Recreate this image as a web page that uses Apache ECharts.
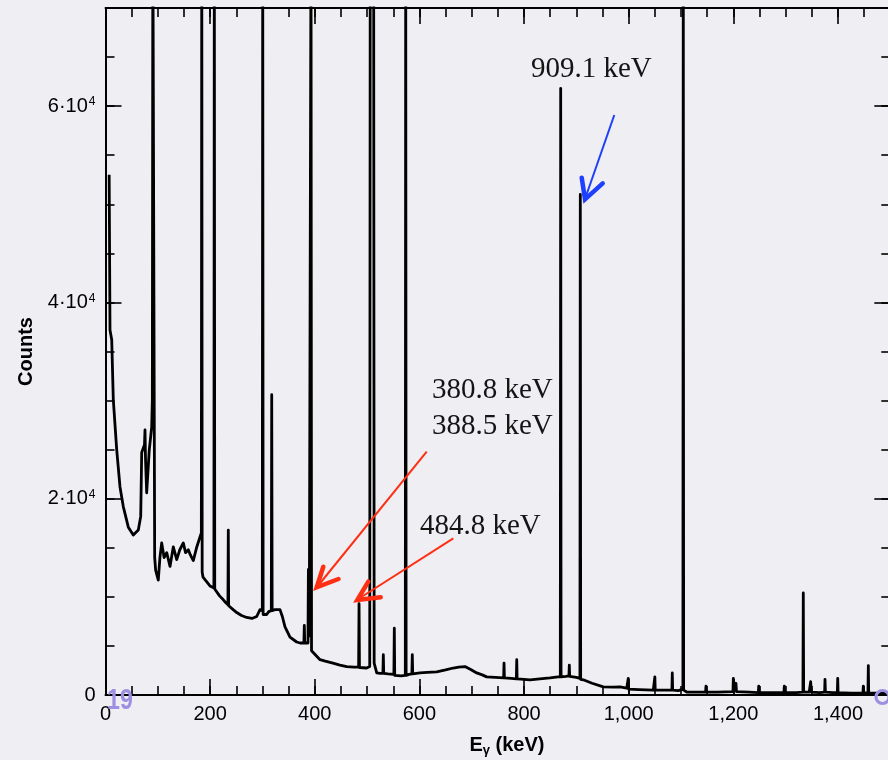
<!DOCTYPE html>
<html><head><meta charset="utf-8">
<script src="https://cdn.jsdelivr.net/npm/echarts@6/dist/echarts.min.js"></script>
<style>html,body{margin:0;padding:0;background:#eeeef3;}#c{width:888px;height:760px;}</style>
</head><body><div id="c"></div>
<script>
// Spectrum: [energy keV, counts]
const lowRegion = [
  [7,53000],[8.6,37200],[11.9,36200],[14.9,30100],[21.4,25000],[27.7,21200],[34,19200],[43.6,17100],
  [53.1,16300],[62.7,16800],[67.3,18200],[69.2,24700],[74.5,25500],[75.5,27000],[76.5,24000],[78.7,20600],
  [83.7,25000],[88.3,27300],[89.5,30000],[90.5,78000],[92.5,78000],[94,14000],[95.9,12700],[100.9,11700],
  [104,14000],[107.4,15500],[112,14000],[117,14500],[123.3,13100],[129.6,15100],[136.1,13800],[142,14800],
  [148.7,15500],[153,14500],[158.3,14800],[162,14300],[167.8,13700],[174,15000],[180.6,16100],[183.2,16500],
  [184,78000],[184.8,12500],[186.4,12000],[194,11500],[200,11100],[207.2,10900],[208,78000],[208.8,10800],
  [212.5,10700],[218,10100],[225.2,9700],[230,9400],[234,9200],[234.7,16800],[235.4,9100],[238,9000],
  [244,8700],[250.8,8400],[260,8100],[269.9,7900],[280,7800],[289,8000],[295.3,8700],[299.7,8600],
  [300.5,78000],[301.3,8200],[308.1,8200],[312,8500],[316.9,8600],[317.7,30600],[318.5,8600],[324,8700],
  [333.5,8700],[338,8000],[343.1,6950],[352.6,5900],[365.4,5400],[372,5300],[379.2,5300],[380,7100],
  [380.8,5300],[387,5300],[387.8,12800],[389.5,6000],[392,6000],[392.8,78000],[393.8,4500],[397.2,4300]
];
const midRegion = [
  [410,3600],[420,3450],[434.8,3250],[448,3050],[461,2900],[475,2850],[483.8,2850],[484.6,9300],
  [485.4,2800],[499.2,2750],[505,2900],[506,78000],[512.5,78000],[513.5,3250],[518.4,2250],[525,2200],
  [530.2,2200],[531,4100],[531.8,2200],[540,2150],[551.2,2100],[552,6800],[552.8,2000],[556.6,1850],
  [565,1950],[573,2000],[573.8,78000],[574.6,2000],[580,2100],[585.6,2150],[586.4,4100],[587.2,2150],
  [601.1,2250],[615,2300],[633,2350],[650,2550],[664.8,2750],[675,2850],[687.1,2900],[698,2600],
  [709.5,2250],[720,2050],[728.6,1850],[745,1800],[761,1750],[761.7,3250],[762.4,1750],[775,1700],
  [785.3,1650],[786,3600],[786.7,1650],[800,1600],[811.4,1550],[830,1650],[849.6,1750],[865,1850],
  [869.3,1850],[870,61800],[870.7,1850],[880,1900],[885.8,1950],[886.5,3050],[887.2,1900],[900,1800],
  [906.8,1700],[907.5,51000],[908.2,1600],[913.2,1550],[930,1200],[951.5,820],[970,800],[983.4,820],
  [996.2,700]
];
const highRegion = [
  [998.5,650],[999.2,1700],[999.9,600],[1020,550],[1047,500],[1049.3,500],[1050,1850],[1050.7,500],
  [1070,500],[1082.6,500],[1083.3,2250],[1084,500],[1095,450],[1103.6,600],[1104.3,78000],[1105,500],
  [1110.9,300],[1130,300],[1147,300],[1147.7,900],[1148.4,300],[1170,300],[1199.3,350],[1200,1700],
  [1201,600],[1203,400],[1205,1200],[1206,350],[1230,300],[1247.8,250],[1248.5,900],[1249.2,250],
  [1275,250],[1296.7,250],[1297.4,900],[1298.1,250],[1320,250],[1333,300],[1333.7,10400],[1334.4,300],
  [1345,300],[1347.8,1350],[1349,300],[1365,250],[1374.5,300],[1375.2,1600],[1376,300],[1390,250],
  [1398.8,250],[1399.5,1700],[1400.2,250],[1425,200],[1447.7,200],[1448.4,900],[1449.1,200],[1457.3,250],
  [1458,3000],[1458.7,200],[1480,200],[1500,200]
];
const xTickLabels = ['0','200','400','600','800','1,000','1,200','1,400'];
const yTickMantissa = ['0','2','4','6'];

const FONT = 'Liberation Sans';
const BLACK = '#000';

function xAx(pos, interval, len, labeled, line) {
  const a = {
    type:'value', position:pos, min:0, max:1500, interval:interval,
    axisLine:{show:line, onZero:false, lineStyle:{color:BLACK, width:2}},
    axisTick:{show:true, inside:true, length:len, lineStyle:{color:BLACK, width:1.6}},
    axisLabel:{show:labeled}, splitLine:{show:false}
  };
  if (labeled) {
    a.axisLabel = {show:true, margin:9, color:BLACK, fontSize:20, fontFamily:FONT,
      formatter: v => { const i = v/200; return Number.isInteger(i) && xTickLabels[i] !== undefined ? xTickLabels[i] : ''; }};
    a.name = '{e|E}{g|γ}{e| (keV)}';
    a.nameLocation = 'middle';
    a.nameGap = 38;
    a.nameTextStyle = {padding:[0,0,0,18], rich:{
      e:{fontSize:20, fontWeight:'bold', fontFamily:FONT, color:BLACK, lineHeight:24},
      g:{fontSize:13, fontWeight:'bold', fontFamily:FONT, color:BLACK, lineHeight:14, verticalAlign:'bottom', padding:[8,0,0,0]}
    }};
  }
  return a;
}
function yAx(pos, interval, len, labeled, line) {
  const a = {
    type:'value', position:pos, min:0, max:70000, interval:interval,
    axisLine:{show:line, onZero:false, lineStyle:{color:BLACK, width:2}},
    axisTick:{show:true, inside:true, length:len, lineStyle:{color:BLACK, width:1.6}},
    axisLabel:{show:labeled}, splitLine:{show:false}
  };
  if (labeled) {
    a.axisLabel = {show:true, margin:10, color:BLACK, fontSize:20, fontFamily:FONT,
      formatter: v => {
        const i = v/20000;
        if (!Number.isInteger(i) || yTickMantissa[i] === undefined) return '';
        if (i === 0) return '{b|0}';
        return '{b|' + yTickMantissa[i] + '·10}{s|4}';
      },
      rich:{
        b:{fontSize:20, fontFamily:FONT, color:BLACK, lineHeight:22},
        s:{fontSize:12, fontFamily:FONT, color:BLACK, lineHeight:12, verticalAlign:'top', padding:[1,0,0,1]}
      }};
    a.name = 'Counts';
    a.nameLocation = 'middle';
    a.nameRotate = 90;
    a.nameGap = 66;
    a.nameTextStyle = {fontSize:20, fontWeight:'bold', fontFamily:FONT, color:BLACK};
  }
  return a;
}

const chart = echarts.init(document.getElementById('c'), null, {renderer:'canvas'});
const serif = '29px "Liberation Serif"';
function label(text, x, y) {
  return {type:'text', z:100, x:x, y:y, style:{text:text, font:serif, fill:'#141414',
    align:'left', verticalAlign:'middle', textAlign:'left', textVerticalAlign:'middle'}};
}
function arrow(color, shaft, head) {
  return [
    {type:'polyline', z:100, shape:{points:shaft}, style:{stroke:color, lineWidth:2, fill:null}},
    {type:'polyline', z:100, shape:{points:head}, style:{stroke:color, lineWidth:4.5, fill:null, lineCap:'round', lineJoin:'miter'}}
  ];
}
const BLUE = '#1e3ffc', RED = '#ff2f14', PURPLE = '#9d90e2';

chart.setOption({
  backgroundColor:'#eeeef3',
  animation:false,
  grid:{left:105.5, top:8, width:784.8, height:687, containLabel:false, outerBoundsMode:'none'},
  xAxis:[ xAx('bottom',200,16,true,true), xAx('bottom',50,9,false,false),
          xAx('top',200,16,false,true), xAx('top',50,9,false,false) ],
  yAxis:[ yAx('left',20000,16,true,true), yAx('left',5000,9,false,false),
          yAx('right',20000,16,false,true), yAx('right',5000,9,false,false) ],
  series:[{
    type:'line', xAxisIndex:0, yAxisIndex:0,
    data: lowRegion.concat(midRegion, highRegion),
    showSymbol:false, symbol:'none', clip:true, silent:true,
    lineStyle:{color:BLACK, width:2.8, join:'round'}
  }],
  graphic:[
    label('909.1 keV', 531, 69),
    label('380.8 keV', 432, 390),
    label('388.5 keV', 432, 426),
    label('484.8 keV', 420, 526),
    ...arrow(BLUE, [[614.3,115],[585,199]], [[581.7,177.7],[585,199.3],[602.7,183.3]]),
    ...arrow(RED, [[426.7,451.7],[317,587]], [[323.3,566.7],[316.7,587.3],[338.5,579]]),
    ...arrow(RED, [[453.3,538.3],[357.5,599.5]], [[368.3,581.7],[357.3,600],[380.7,597.3]]),
    {type:'text', z:100, x:107, y:701, scaleX:0.8, originX:0, originY:0,
      style:{text:'19', font:'bold 29px "Liberation Sans"', fill:PURPLE, align:'left', verticalAlign:'middle', textAlign:'left', textVerticalAlign:'middle'}},
    {type:'circle', z:100, shape:{cx:882.5, cy:697, r:6.5}, style:{stroke:PURPLE, lineWidth:3.2, fill:null}}
  ]
});
</script></body></html>
